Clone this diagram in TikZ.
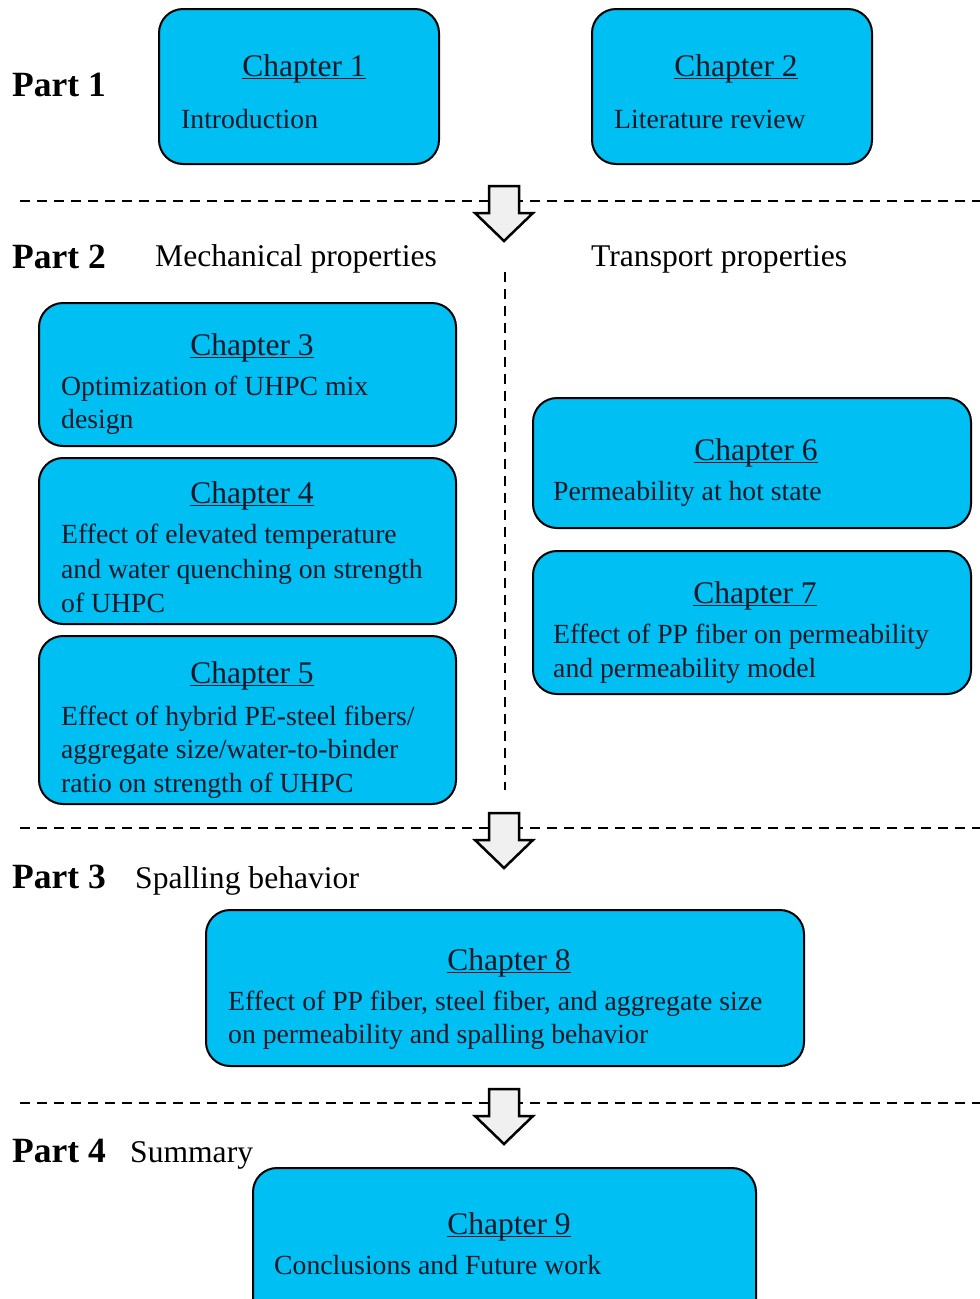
\documentclass[tikz,border=0pt]{standalone}
\usepackage{fontspec}
\setmainfont{Liberation Serif}
\definecolor{boxcyan}{RGB}{0,191,242}
\definecolor{boxtext}{RGB}{22,24,40}
\definecolor{arrowgray}{RGB}{240,240,240}
\newcommand{\chul}[1]{\setbox0=\hbox{#1}\rlap{\rule[-3pt]{\wd0}{1.4pt}}\box0}
\begin{document}
\begin{tikzpicture}[x=1pt,y=-1pt,
  box/.style={draw=black, line width=2pt, fill=boxcyan, rounded corners=24pt, inner sep=0pt, anchor=north west},
  chtitle/.style={inner sep=0pt, anchor=base, text=boxtext, font=\fontsize{31.5}{34}\selectfont},
  chbody/.style={inner sep=0pt, anchor=base west, text=boxtext, font=\fontsize{27.7}{33}\selectfont},
  partlbl/.style={inner sep=0pt, anchor=base west, font=\fontsize{35.5}{38}\selectfont\bfseries},
  heading/.style={inner sep=0pt, anchor=base west, font=\fontsize{31.6}{34}\selectfont},
  sep/.style={line width=1.5pt, dash pattern=on 10pt off 7pt},
  bigarrow/.style={draw=black, line width=2.5pt, fill=arrowgray, line join=miter}
]
\useasboundingbox (0,0) rectangle (980,1299);
\clip (0,0) rectangle (980,1299);

% separators
\coordinate (s1a) at (20,201); \coordinate (s1b) at (980,201);
\coordinate (s2a) at (20,828); \coordinate (s2b) at (980,828);
\coordinate (s3a) at (20,1103); \coordinate (s3b) at (980,1103);
\coordinate (va) at (505,272); \coordinate (vb) at (505,790);
\draw[sep] (s1a) -- (s1b);
\draw[sep] (s2a) -- (s2b);
\draw[sep] (s3a) -- (s3b);
\draw[sep] (va) -- (vb);

% block arrows
\foreach \t in {186,813,1089}{
  \draw[bigarrow] (489,\t) -- (519,\t) -- (519,\t+27) -- (533,\t+27) -- (504,\t+55)
    -- (475,\t+27) -- (489,\t+27) -- cycle;
}

% Part 1
\node[partlbl] (p1) at (12,96) {Part 1};
\node[box, minimum width=280pt, minimum height=155pt] (c1) at (158,8) {};
\node[chtitle] (c1t) at (304,76) {\chul{Chapter 1}};
\node[chbody] (c1a) at (181,128) {Introduction};
\node[box, minimum width=280pt, minimum height=155pt] (c2) at (591,8) {};
\node[chtitle] (c2t) at (736,76) {\chul{Chapter 2}};
\node[chbody] (c2a) at (614,128) {Literature review};

% Part 2
\node[partlbl] (p2) at (12,268) {Part 2};
\node[heading] (h2a) at (155,266) {Mechanical properties};
\node[heading] (h2b) at (591,266) {Transport properties};

\node[box, minimum width=417pt, minimum height=143pt] (c3) at (38,302) {};
\node[chtitle] (c3t) at (252,355) {\chul{Chapter 3}};
\node[chbody] (c3a) at (61,395) {Optimization of UHPC mix};
\node[chbody] (c3b) at (61,428) {design};

\node[box, minimum width=417pt, minimum height=166pt] (c4) at (38,457) {};
\node[chtitle] (c4t) at (252,503) {\chul{Chapter 4}};
\node[chbody] (c4a) at (61,543) {Effect of elevated temperature};
\node[chbody] (c4b) at (61,578) {and water quenching on strength};
\node[chbody] (c4c) at (61,612) {of UHPC};

\node[box, minimum width=417pt, minimum height=168pt] (c5) at (38,635) {};
\node[chtitle] (c5t) at (252,683) {\chul{Chapter 5}};
\node[chbody] (c5a) at (61,725) {Effect of hybrid PE-steel fibers/};
\node[chbody] (c5b) at (61,758) {aggregate size/water-to-binder};
\node[chbody] (c5c) at (61,792) {ratio on strength of UHPC};

\node[box, minimum width=438pt, minimum height=130pt] (c6) at (532,397) {};
\node[chtitle] (c6t) at (756,460) {\chul{Chapter 6}};
\node[chbody] (c6a) at (553,500) {Permeability at hot state};

\node[box, minimum width=438pt, minimum height=143pt] (c7) at (532,550) {};
\node[chtitle] (c7t) at (755,603) {\chul{Chapter 7}};
\node[chbody] (c7a) at (553,643) {Effect of PP fiber on permeability};
\node[chbody] (c7b) at (553,677) {and permeability model};

% Part 3
\node[partlbl] (p3) at (12,888) {Part 3};
\node[heading] (h3) at (135,888) {Spalling behavior};
\node[box, minimum width=598pt, minimum height=156pt] (c8) at (205,909) {};
\node[chtitle] (c8t) at (509,970) {\chul{Chapter 8}};
\node[chbody] (c8a) at (228,1010) {Effect of PP fiber, steel fiber, and aggregate size};
\node[chbody] (c8b) at (228,1043) {on permeability and spalling behavior};

% Part 4
\node[partlbl] (p4) at (12,1162) {Part 4};
\node[heading] (h4) at (130,1162) {Summary};
\node[box, minimum width=503pt, minimum height=170pt] (c9) at (252,1167) {};
\node[chtitle] (c9t) at (509,1234) {\chul{Chapter 9}};
\node[chbody] (c9a) at (274,1274) {Conclusions and Future work};
\end{tikzpicture}
\end{document}
